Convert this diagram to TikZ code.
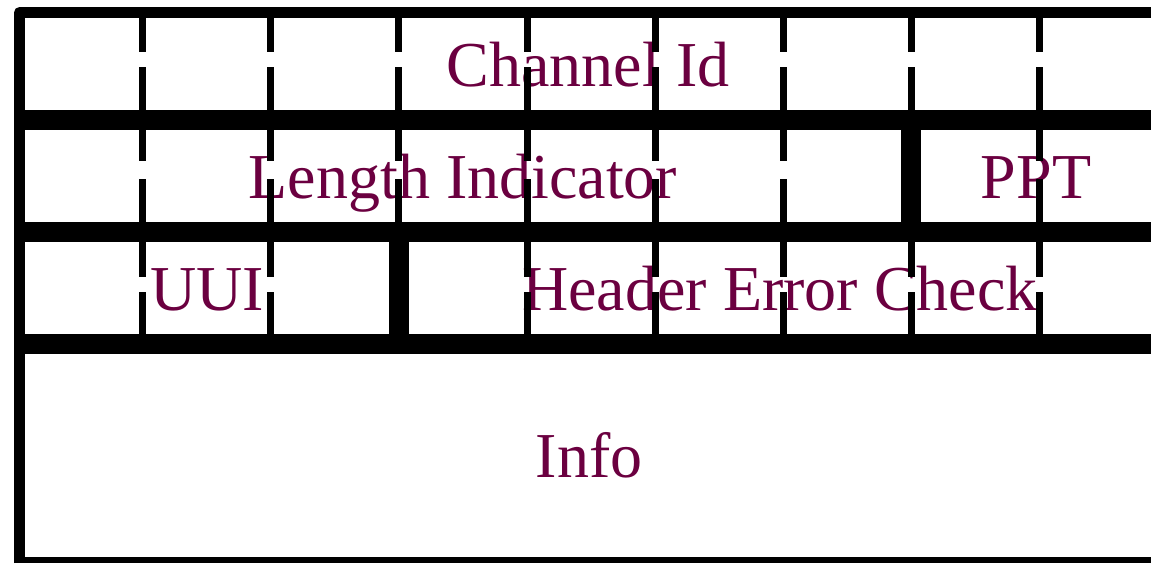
\documentclass[tikz,border=0pt]{standalone}
\usepackage{fontspec}
\setmainfont{Liberation Serif}
\definecolor{fieldtext}{RGB}{107,0,64}
\tikzset{
  field/.style={text=fieldtext, font=\fontsize{64}{64}\selectfont, inner sep=0pt, text height=42pt, text depth=0pt, anchor=center},
  frame/.style={line width=11pt, line join=round},
  sep/.style={line width=20pt},
  tick/.style={line width=7pt},
}
\begin{document}
\begin{tikzpicture}[x=1pt,y=-1pt]
\useasboundingbox (0,0) rectangle (1151,563);
% texts
\node[field] (chan) at (588,65) {Channel Id};
\node[field] (len) at (463,177) {Length Indicator};
\node[field] (ppt) at (1036,177) {PPT};
\node[field] (uui) at (207,289) {UUI};
\node[field] (hec) at (780,289) {Header Error Check};
\node[field] (info) at (589,456) {Info};
% dashed bit markers, one gap per row
\foreach \x in {142,270,398,527,655,783,911,1039}{
  \draw[tick] (\x,12) -- (\x,52);
  \draw[tick] (\x,67) -- (\x,120);
  \draw[tick] (\x,120) -- (\x,161);
  \draw[tick] (\x,179) -- (\x,232);
  \draw[tick] (\x,232) -- (\x,277);
  \draw[tick] (\x,292) -- (\x,344);
}
% frame
\draw[frame] (19.5,563) -- (19.5,12.5) -- (1151,12.5);
% row separators
\draw[sep] (14,120) -- (1151,120);
\draw[sep] (14,232) -- (1151,232);
\draw[sep] (14,344) -- (1151,344);
\draw[line width=6pt] (14,560) -- (1151,560);
% field boundaries
\draw[sep] (911,120) -- (911,232);
\draw[sep] (399,232) -- (399,344);
\end{tikzpicture}
\end{document}
